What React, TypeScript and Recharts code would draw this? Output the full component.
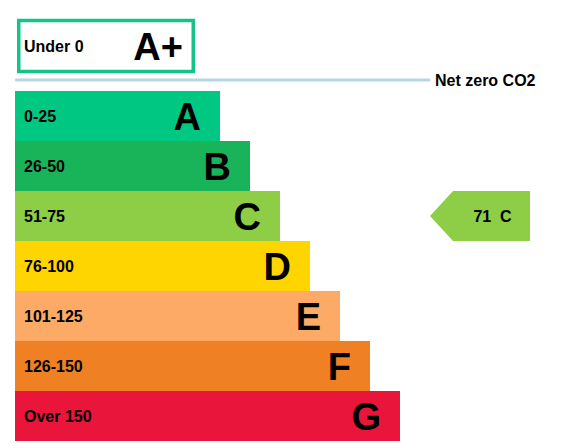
import React from "react";
import { BarChart, Bar, XAxis, YAxis } from "recharts";

// rating rows, top to bottom
const bandLetters = ["A+", "A", "B", "C", "D", "E", "F", "G"];
const bandRanges = ["Under 0", "0-25", "26-50", "51-75", "76-100", "101-125", "126-150", "Over 150"];
const barLengths = [36, 41, 47, 53, 59, 65, 71, 77];
const bandColors = ["#14c28a", "#00c781", "#19b459", "#8dce46", "#ffd500", "#fcaa65", "#ef8023", "#e9153b"];

const currentScore = 71;
const currentBand = "C";
const netZeroLabel = "Net zero CO2";

const data = bandLetters.map((letter, i) => ({
  letter,
  range: bandRanges[i],
  length: barLengths[i],
  color: bandColors[i],
}));

const FONT = "'Liberation Sans', Arial, sans-serif";
const TEXT = "#000";

function RatingBar(props: any) {
  const { x, y, width, height, payload } = props;
  const cy = y + height / 2;
  const unit = width / payload.length;

  if (payload.letter === "A+") {
    // boxed top band with the net zero line under it
    const boxY = y - 20.5;
    const boxH = 51;
    const mid = boxY + boxH / 2;
    return (
      <g>
        <rect x={x + 3.75} y={boxY} width={width - 5.5} height={boxH} fill="#fff" stroke={payload.color} strokeWidth={3.5} />
        <text x={x + 9} y={mid + 5.5} fontFamily={FONT} fontWeight="bold" fontSize={16} fill={TEXT}>
          {payload.range}
        </text>
        <text x={x + width - 12} y={mid + 13.5} textAnchor="end" fontFamily={FONT} fontWeight="bold" fontSize={38} fill={TEXT}>
          {payload.letter}
        </text>
        <line x1={x} x2={x + 83 * unit} y1={y + 39} y2={y + 39} stroke="#b5d6e3" strokeWidth={3} />
        <text x={x + 84 * unit} y={y + 44.5} fontFamily={FONT} fontWeight="bold" fontSize={16} fill={TEXT}>
          {netZeroLabel}
        </text>
      </g>
    );
  }

  const tip = x + 83 * unit;
  const body = x + 87.6 * unit;
  const end = x + 103 * unit;

  return (
    <g>
      <rect x={x} y={y} width={width} height={height} fill={payload.color} />
      <text x={x + 9} y={cy + 5.5} fontFamily={FONT} fontWeight="bold" fontSize={16} fill={TEXT}>
        {payload.range}
      </text>
      <text x={x + width - 19} y={cy + 13.5} textAnchor="end" fontFamily={FONT} fontWeight="bold" fontSize={38} fill={TEXT}>
        {payload.letter}
      </text>
      {payload.letter === currentBand && (
        <g>
          <polygon
            points={`${tip},${cy} ${body},${y} ${end},${y} ${end},${y + height} ${body},${y + height}`}
            fill={payload.color}
          />
          <text
            x={(body + end) / 2 + 1}
            y={cy + 6}
            textAnchor="middle"
            fontFamily={FONT}
            fontWeight="bold"
            fontSize={16}
            fill={TEXT}
            style={{ whiteSpace: "pre" }}
          >
            {`${currentScore}  ${currentBand}`}
          </text>
        </g>
      )}
    </g>
  );
}

export default function App() {
  return (
    <div style={{ width: 575, height: 440, background: "#fff" }}>
      <BarChart
        width={575}
        height={440}
        data={data}
        layout="vertical"
        margin={{ top: 33, right: 18, bottom: 7, left: 7 }}
        barCategoryGap={0}
      >
        <XAxis type="number" domain={[0, 110]} hide />
        <YAxis type="category" dataKey="letter" hide />
        <Bar dataKey="length" shape={RatingBar} isAnimationActive={false} />
      </BarChart>
    </div>
  );
}
